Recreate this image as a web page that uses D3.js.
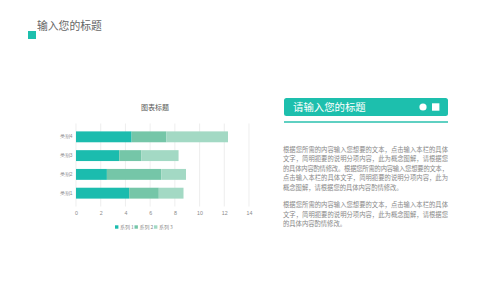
<!DOCTYPE html>
<html>
<head>
<meta charset="utf-8">
<script src="https://cdn.jsdelivr.net/npm/d3@7"></script>
<style>
  body { margin: 0; background: #fff; }
  svg { display: block; font-family: "Noto Sans CJK SC", "Noto Sans", sans-serif; }
</style>
</head>
<body>
<div id="page"></div>
<script>
// chart data
const categories = ["类别1", "类别2", "类别3", "类别4"];
const seriesNames = ["系列 1", "系列 2", "系列 3"];
const series1 = [4.3, 2.5, 3.5, 4.5];
const series2 = [2.4, 4.4, 1.8, 2.8];
const series3 = [2, 2, 3, 5];
const xTicks = [0, 2, 4, 6, 8, 10, 12, 14];

// texts
const pageTitle = "输入您的标题";
const chartTitle = "图表标题";
const panelTitle = "请输入您的标题";
const para1 = [
  "根据您所需的内容输入您想要的文本，点击输入本栏的具体",
  "文字，简明扼要的说明分项内容，此为概念图解，请根据您",
  "的具体内容酌情修改。根据您所需的内容输入您想要的文本，",
  "点击输入本栏的具体文字，简明扼要的说明分项内容，此为",
  "概念图解，请根据您的具体内容酌情修改。"
];
const para2 = [
  "根据您所需的内容输入您想要的文本，点击输入本栏的具体",
  "文字，简明扼要的说明分项内容，此为概念图解，请根据您",
  "的具体内容酌情修改。"
];

const colors = ["#1bbcae", "#75c6a8", "#a3d9c4"];
const teal = "#1dbfad";

const W = 500, H = 281;
const svg = d3.select("#page").append("svg")
    .attr("width", W).attr("height", H);

// page header
svg.append("rect").attr("x", 28).attr("y", 31).attr("width", 8).attr("height", 8).attr("fill", teal);
svg.append("text").attr("x", 37).attr("y", 30)
    .attr("font-size", 10.8).attr("fill", "#666").text(pageTitle);

// ---- stacked bar chart ----
const x = d3.scaleLinear().domain([0, 14]).range([76, 249]);
const y = d3.scaleBand().domain(categories).range([206.5, 123.5]).padding(0.42);

// gridlines
svg.append("g").selectAll("line").data(xTicks).join("line")
    .attr("x1", d => x(d)).attr("x2", d => x(d))
    .attr("y1", 123.5).attr("y2", 206.5)
    .attr("stroke", "#e3e3e3").attr("stroke-width", 0.6);

const table = categories.map((c, i) => ({cat: c, s0: series1[i], s1: series2[i], s2: series3[i]}));
const stack = d3.stack().keys(["s0", "s1", "s2"])(table);

svg.append("g").selectAll("g").data(stack).join("g")
    .attr("fill", (d, i) => colors[i])
    .selectAll("rect").data(d => d).join("rect")
    .attr("x", d => x(d[0]))
    .attr("width", d => x(d[1]) - x(d[0]))
    .attr("y", d => y(d.data.cat))
    .attr("height", y.bandwidth());

// axes
const xAxis = svg.append("g").attr("transform", "translate(0,206.5)")
    .call(d3.axisBottom(x).tickValues(xTicks).tickSize(0).tickPadding(5));
xAxis.select(".domain").remove();
xAxis.selectAll("text").attr("font-size", 5.3).attr("fill", "#8a8a8a");

const yAxis = svg.append("g").attr("transform", "translate(76,0)")
    .call(d3.axisLeft(y).tickSize(0).tickPadding(3.5));
yAxis.select(".domain").remove();
yAxis.selectAll("text").attr("font-size", 4.8).attr("fill", "#8a8a8a");

svg.append("text").attr("x", 155).attr("y", 108).attr("dy", "0.35em")
    .attr("text-anchor", "middle").attr("font-size", 7).attr("fill", "#595959")
    .text(chartTitle);

// legend
const legend = svg.append("g").attr("transform", "translate(115,227)");
seriesNames.forEach((name, i) => {
  const g = legend.append("g").attr("transform", `translate(${i * 19.5},0)`);
  g.append("rect").attr("x", 0).attr("y", -1.7).attr("width", 3.4).attr("height", 3.4).attr("fill", colors[i]);
  g.append("text").attr("x", 5).attr("y", 0).attr("dy", "0.35em")
      .attr("font-size", 5).attr("fill", "#8a8a8a").text(name);
});

// ---- right panel ----
svg.append("rect").attr("x", 284).attr("y", 98).attr("width", 164).attr("height", 18)
    .attr("rx", 2.5).attr("fill", teal);
svg.append("text").attr("x", 293).attr("y", 107.5).attr("dy", "0.35em")
    .attr("font-size", 10.4).attr("fill", "#fff").text(panelTitle);
svg.append("circle").attr("cx", 423).attr("cy", 107).attr("r", 3.6).attr("fill", "#fff");
svg.append("rect").attr("x", 432).attr("y", 103.3).attr("width", 7.4).attr("height", 7.4).attr("fill", "#fff");
svg.append("rect").attr("x", 284).attr("y", 121).attr("width", 164).attr("height", 2).attr("fill", "#5fd0c2");

function paragraph(lines, y0) {
  svg.append("g").selectAll("text").data(lines).join("text")
      .attr("x", 283).attr("y", (d, i) => y0 + i * 9.5).attr("dy", "0.35em")
      .attr("font-size", 6.3).attr("fill", "#888")
      .attr("textLength", (d, i) => i < lines.length - 1 ? 165 : null)
      .attr("lengthAdjust", "spacing")
      .text(d => d);
}
paragraph(para1, 149.5);
paragraph(para2, 205);
</script>
</body>
</html>
